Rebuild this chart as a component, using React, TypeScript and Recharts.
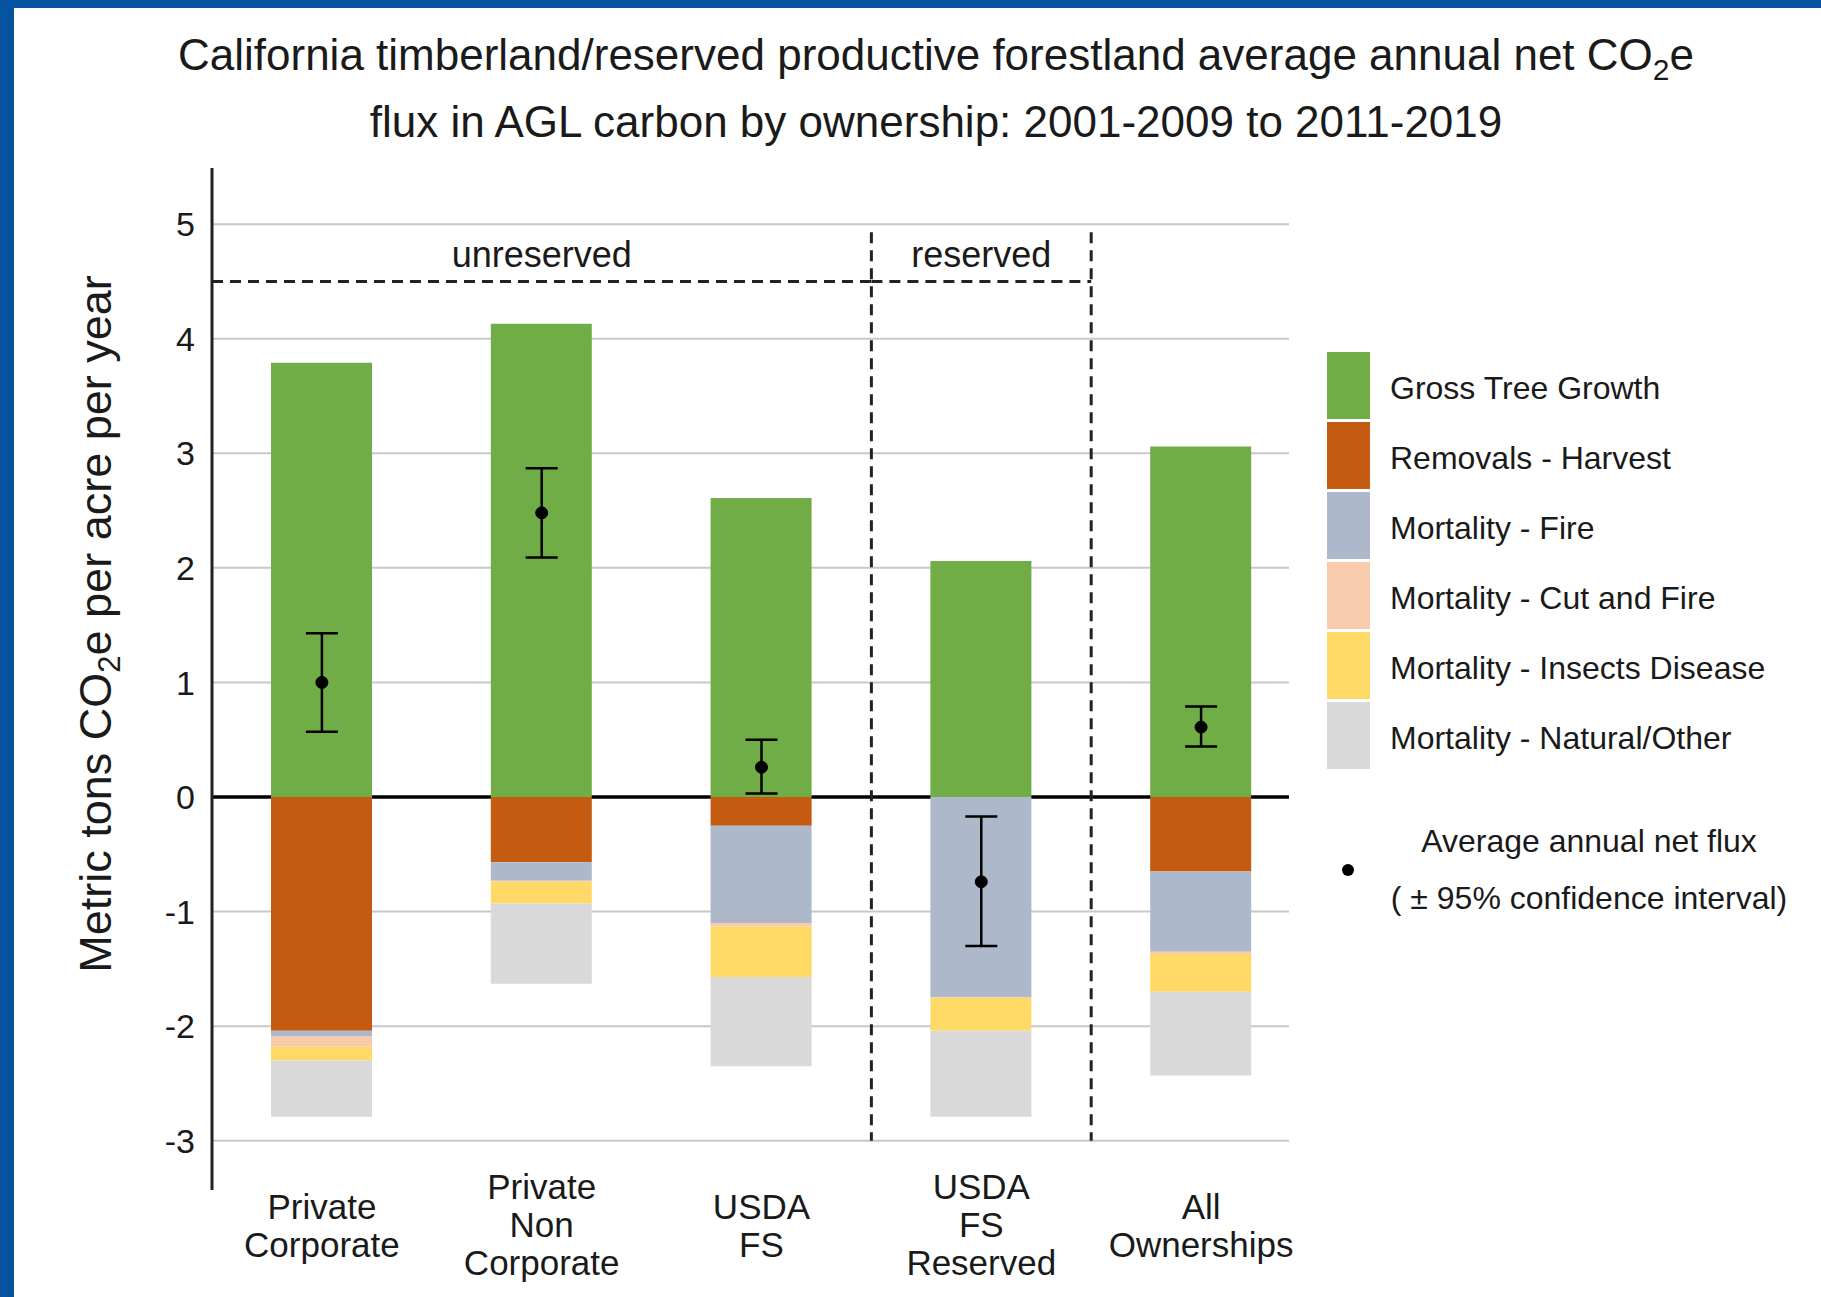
import React from "react";
import { ComposedChart, Bar, Line, ErrorBar, XAxis, YAxis, CartesianGrid, ReferenceLine } from "recharts";

const categories = ["Private Corporate", "Private Non Corporate", "USDA FS", "USDA FS Reserved", "All Ownerships"];
const categoryLines = [["Private", "Corporate"], ["Private", "Non", "Corporate"], ["USDA", "FS"], ["USDA", "FS", "Reserved"], ["All", "Ownerships"]];
const xPos = [0.5, 1.5, 2.5, 3.5, 4.5];

// metric tons CO2e / acre / year
const grossGrowth = [3.79, 4.13, 2.61, 2.06, 3.06];
const harvest = [-2.04, -0.57, -0.25, 0, -0.65];
const fire = [-0.05, -0.16, -0.85, -1.75, -0.70];
const cutFire = [-0.09, -0.01, -0.03, 0, -0.02];
const insects = [-0.12, -0.19, -0.44, -0.29, -0.33];
const natural = [-0.49, -0.70, -0.78, -0.75, -0.73];

const netFlux = [1.0, 2.48, 0.26, -0.74, 0.61];
const ciLow = [0.57, 2.09, 0.03, -1.30, 0.44];
const ciHigh = [1.43, 2.87, 0.50, -0.17, 0.79];

const yTicks = [-3, -2, -1, 0, 1, 2, 3, 4, 5];

const seriesKeys = ["growth", "harvest", "fire", "cutFire", "insects", "natural"];
const seriesNames = ["Gross Tree Growth", "Removals - Harvest", "Mortality - Fire", "Mortality - Cut and Fire", "Mortality - Insects Disease", "Mortality - Natural/Other"];
const seriesColors = ["#70AD47", "#C55A11", "#ADB9CA", "#F8CBAD", "#FFD966", "#D9D9D9"];

const data = categories.map((name, i) => ({
  name,
  x: xPos[i],
  growth: grossGrowth[i],
  harvest: harvest[i],
  fire: fire[i],
  cutFire: cutFire[i],
  insects: insects[i],
  natural: natural[i],
  net: netFlux[i],
  err: [netFlux[i] - ciLow[i], ciHigh[i] - netFlux[i]],
}));

const FONT = "'Liberation Sans', Arial, sans-serif";
const INK = "#1a1a1a";
const PLOT_TOP = 168;
const PLOT_BOTTOM = 1190;

function CategoryTick(props: any) {
  const { x, y, payload } = props;
  const idx = xPos.indexOf(payload.value);
  const lines = categoryLines[idx] || [];
  const start = lines.length === 3 ? 9 : 29;
  return (
    <text x={x} y={y} textAnchor="middle" fontSize={35} fill={INK} fontFamily={FONT}>
      {lines.map((l, i) => (
        <tspan key={i} x={x} y={y + start + i * 38}>{l}</tspan>
      ))}
    </text>
  );
}

// skip the lines the grid puts on the plot edges
function gridLine(p: any) {
  if (p.y1 < PLOT_TOP + 2 || p.y1 > PLOT_BOTTOM - 2) return <g key={p.key} />;
  return <line key={p.key} x1={p.x1} y1={p.y1} x2={p.x2} y2={p.y2} stroke="#C8C8C8" strokeWidth={2} />;
}

export default function App() {
  const dash = { stroke: "#222", strokeWidth: 3, strokeDasharray: "11 7" };
  return (
    <div style={{ position: "absolute", left: 0, top: 0, width: 1821, height: 1297, background: "#fff", fontFamily: FONT }}>
      <div style={{ position: "absolute", left: 0, top: 0, width: 1821, height: 8, background: "#03539F" }} />
      <div style={{ position: "absolute", left: 0, top: 0, width: 14, height: 1297, background: "#03539F" }} />

      <div style={{ position: "absolute", left: 0, top: 0 }}>
        <ComposedChart width={1821} height={1297} data={data} stackOffset="sign"
          margin={{ top: PLOT_TOP, right: 532, bottom: 7, left: 132 }}>
          <CartesianGrid vertical={false} horizontal={gridLine} stroke="#C8C8C8" strokeWidth={2} />
          <ReferenceLine y={0} stroke="#000" strokeWidth={3.5} zIndex={-10} />
          <XAxis type="number" dataKey="x" domain={[0, 4.9]} ticks={xPos} interval={0}
            axisLine={false} tickLine={false} tickSize={0} tickMargin={0} height={100}
            tick={<CategoryTick />} allowDecimals />
          <YAxis type="number" domain={[-3.43, 5.49]} ticks={yTicks} interval={0} width={80}
            axisLine={{ stroke: "#222", strokeWidth: 3 }} tickLine={false} tickMargin={11}
            tick={{ fontSize: 34, fill: INK, fontFamily: FONT }} allowDataOverflow />
          {seriesKeys.map((k, i) => (
            <Bar key={k} dataKey={k} stackId="s" fill={seriesColors[i]} barSize={101} isAnimationActive={false} />
          ))}
          <ReferenceLine segment={[{ x: 0, y: 4.5 }, { x: 3, y: 4.5 }]} {...dash}
            label={{ value: "unreserved", position: "top", offset: 14, fill: INK, fontSize: 36, fontFamily: FONT }} />
          <ReferenceLine segment={[{ x: 3, y: 4.5 }, { x: 4, y: 4.5 }]} {...dash}
            label={{ value: "reserved", position: "top", offset: 14, fill: INK, fontSize: 36, fontFamily: FONT }} />
          <ReferenceLine segment={[{ x: 3, y: 4.93 }, { x: 3, y: -3 }]} {...dash} />
          <ReferenceLine segment={[{ x: 4, y: 4.93 }, { x: 4, y: -3 }]} {...dash} />
          <Line dataKey="net" stroke="none" isAnimationActive={false} legendType="none"
            dot={{ r: 6, fill: "#000", stroke: "#000", strokeWidth: 1 }} activeDot={false}>
            <ErrorBar dataKey="err" direction="y" width={16} stroke="#000" strokeWidth={2.5} />
          </Line>
        </ComposedChart>
      </div>

      <svg width={1821} height={1297} style={{ position: "absolute", left: 0, top: 0, pointerEvents: "none" }}>
        <g fontFamily={FONT} fill={INK}>
          <text x={936} y={70} textAnchor="middle" fontSize={44}>
            California timberland/reserved productive forestland average annual net CO
            <tspan fontSize={30} dy={10}>2</tspan>
            <tspan dy={-10}>e</tspan>
          </text>
          <text x={936} y={137} textAnchor="middle" fontSize={44}>
            flux in AGL carbon by ownership: 2001-2009 to 2011-2019
          </text>
          <text transform="translate(111, 624) rotate(-90)" x={0} y={0} textAnchor="middle" fontSize={45}>
            Metric tons CO<tspan fontSize={31} dy={9}>2</tspan><tspan dy={-9}>e per acre per year</tspan>
          </text>

          {seriesNames.map((n, i) => (
            <g key={n}>
              <rect x={1327} y={352 + i * 70} width={43} height={67} fill={seriesColors[i]} />
              <text x={1390} y={388 + i * 70 + 11} fontSize={32}>{n}</text>
            </g>
          ))}
          <circle cx={1348} cy={870} r={6} fill="#000" />
          <text x={1589} y={852} textAnchor="middle" fontSize={32}>Average annual net flux</text>
          <text x={1589} y={909} textAnchor="middle" fontSize={32}>( ± 95% confidence interval)</text>
        </g>
      </svg>
    </div>
  );
}
